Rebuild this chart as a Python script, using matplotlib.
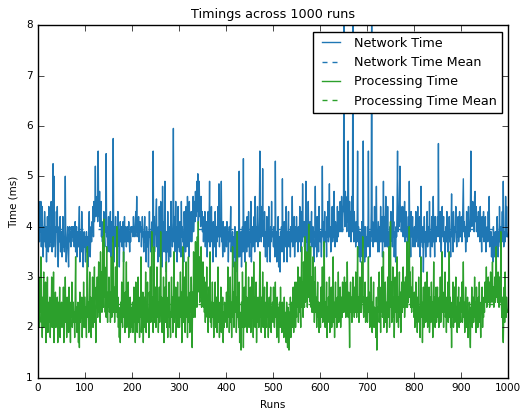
import numpy as np
import matplotlib
matplotlib.use("Agg")
import matplotlib.pyplot as plt

# timings per run (ms), 25 runs per row
network_time = [
    4.0, 3.8, 4.5, 3.7, 4.1, 3.9, 4.5, 3.6, 4.0, 4.4, 3.8, 3.4, 4.0, 3.7, 4.3, 3.9, 3.6, 4.0, 3.3, 3.8, 4.2, 3.7, 3.5, 4.4, 3.8,
    3.6, 4.0, 3.7, 4.5, 3.8, 3.5, 3.9, 5.25, 3.6, 5.0, 3.8, 4.0, 3.4, 3.7, 4.3, 3.9, 4.4, 3.6, 3.2, 3.8, 4.0, 3.7, 4.2, 3.5, 3.9,
    3.7, 3.4, 3.9, 4.2, 3.6, 3.8, 3.5, 3.9, 5.0, 3.7, 3.3, 3.6, 3.8, 4.0, 3.5, 3.2, 3.8, 4.0, 3.7, 3.9, 3.6, 4.0, 3.8, 4.0, 3.9,
    3.7, 4.0, 3.6, 3.9, 4.1, 3.5, 3.8, 4.0, 3.4, 3.7, 3.9, 3.6, 4.0, 4.4, 3.3, 3.7, 3.9, 3.5, 4.3, 3.8, 3.6, 3.2, 3.7, 3.9, 3.6,
    3.8, 3.3, 3.7, 3.9, 3.5, 3.8, 3.2, 3.7, 4.0, 4.3, 3.6, 3.4, 3.8, 4.0, 3.7, 4.1, 3.9, 4.4, 3.8, 4.5, 4.1, 4.3, 5.2, 4.2, 4.5,
    4.3, 4.6, 4.1, 5.5, 4.3, 4.2, 4.7, 4.0, 4.4, 4.5, 3.8, 4.1, 3.7, 4.0, 3.6, 4.3, 3.8, 3.6, 4.2, 3.9, 5.45, 3.8, 4.0, 3.5, 3.9,
    4.2, 3.7, 3.5, 3.9, 4.3, 3.4, 3.8, 4.1, 3.7, 4.0, 5.75, 3.8, 3.3, 4.0, 3.7, 4.2, 3.6, 4.0, 3.8, 3.6, 4.3, 3.9, 3.7, 3.2, 3.8,
    4.1, 3.7, 3.9, 4.0, 3.6, 3.9, 4.1, 3.3, 3.8, 4.2, 3.7, 3.9, 4.0, 3.6, 3.9, 3.8, 4.0, 3.7, 4.1, 3.8, 3.5, 3.9, 3.7, 4.0, 3.9,
    3.9, 4.0, 3.8, 4.2, 3.9, 4.0, 3.8, 4.1, 4.3, 3.9, 4.6, 3.8, 4.0, 3.9, 4.2, 3.7, 4.0, 4.1, 3.9, 4.0, 3.6, 3.9, 4.2, 3.8, 3.9,
    3.5, 3.9, 4.2, 3.7, 3.9, 3.3, 4.0, 3.8, 3.6, 3.9, 3.2, 3.7, 4.3, 3.8, 3.9, 3.5, 3.8, 4.0, 4.1, 3.6, 5.5, 3.7, 4.2, 3.5, 3.8,
    3.9, 4.2, 4.55, 3.6, 3.9, 3.3, 4.0, 3.7, 4.4, 3.8, 3.4, 4.5, 3.8, 3.9, 3.2, 4.8, 3.7, 4.1, 3.5, 3.8, 4.9, 3.5, 3.8, 3.1, 3.9,
    3.5, 4.3, 3.8, 3.3, 4.0, 3.7, 3.9, 3.4, 4.5, 3.8, 3.9, 3.6, 4.1, 5.95, 3.7, 4.2, 3.5, 3.8, 4.5, 3.7, 4.0, 3.3, 3.8, 4.4, 3.6,
    3.8, 3.5, 4.1, 3.7, 3.4, 4.5, 3.8, 4.0, 3.7, 3.9, 3.3, 4.3, 3.8, 3.9, 3.5, 4.4, 3.8, 3.6, 4.6, 3.9, 4.1, 3.4, 4.5, 3.7, 4.0,
    3.9, 4.3, 3.7, 4.0, 4.2, 4.6, 3.9, 4.2, 4.5, 4.1, 4.7, 4.2, 4.4, 4.9, 4.3, 5.05, 4.1, 4.5, 4.9, 4.2, 4.4, 4.0, 4.6, 4.1, 4.3,
    3.9, 4.2, 3.7, 4.0, 3.9, 4.3, 3.6, 4.0, 3.8, 4.1, 3.4, 3.9, 4.3, 3.7, 4.0, 4.9, 3.6, 3.9, 3.8, 4.4, 3.7, 3.9, 3.3, 4.1, 3.7,
    3.9, 3.6, 4.3, 3.8, 3.4, 4.0, 3.7, 3.9, 4.4, 3.8, 4.85, 3.6, 4.0, 3.8, 4.2, 4.9, 3.7, 3.9, 3.4, 4.1, 3.8, 3.9, 3.5, 4.0, 3.7,
    3.9, 3.6, 4.1, 3.8, 3.9, 3.3, 3.8, 4.0, 3.7, 3.9, 4.4, 3.5, 3.7, 3.6, 3.9, 3.2, 3.8, 3.7, 3.4, 4.0, 3.3, 3.7, 3.6, 3.9, 3.1,
    3.6, 3.4, 3.8, 5.1, 3.4, 3.7, 3.6, 3.9, 3.2, 3.7, 4.0, 3.5, 5.35, 3.6, 3.8, 3.3, 4.1, 3.7, 3.9, 3.5, 4.2, 3.7, 3.6, 4.3, 3.8,
    3.4, 3.9, 3.7, 4.5, 3.3, 3.8, 4.0, 3.6, 3.9, 3.7, 4.2, 3.5, 4.6, 3.8, 3.7, 4.0, 3.9, 4.4, 3.6, 3.9, 3.7, 4.3, 5.5, 3.8, 4.1,
    3.7, 4.4, 3.9, 5.15, 3.8, 4.0, 3.6, 4.3, 3.8, 3.4, 3.9, 3.7, 4.2, 3.3, 3.9, 3.7, 4.4, 3.6, 3.8, 3.3, 4.0, 3.7, 4.5, 3.8, 3.9,
    3.8, 3.6, 4.0, 3.7, 3.4, 5.3, 3.7, 3.9, 3.3, 3.9, 3.6, 4.2, 3.2, 3.8, 3.7, 3.1, 3.9, 3.6, 4.0, 3.5, 4.95, 3.7, 3.9, 3.3, 4.1,
    3.7, 3.9, 3.6, 4.4, 3.7, 3.3, 3.9, 3.8, 4.3, 3.6, 3.9, 3.8, 3.4, 4.0, 3.7, 3.9, 4.6, 3.6, 3.9, 3.8, 4.2, 3.4, 3.8, 4.0, 3.7,
    4.2, 3.8, 3.9, 3.5, 4.0, 3.8, 3.7, 4.4, 3.8, 3.9, 3.5, 4.3, 3.7, 4.85, 3.9, 3.8, 4.1, 3.6, 3.9, 3.8, 4.9, 3.7, 4.0, 3.4, 3.9,
    4.5, 3.8, 3.9, 3.4, 4.1, 3.7, 3.9, 4.3, 3.6, 3.8, 4.0, 3.7, 3.3, 3.9, 3.8, 4.8, 3.6, 3.9, 3.4, 4.2, 3.8, 3.9, 3.5, 4.4, 3.8,
    3.7, 3.9, 3.8, 3.4, 4.0, 5.2, 3.8, 4.1, 3.6, 3.9, 4.3, 3.8, 3.7, 3.9, 3.4, 4.2, 3.8, 4.5, 3.7, 3.9, 4.85, 3.8, 4.0, 3.5, 3.9,
    3.8, 4.4, 3.7, 3.9, 3.8, 4.7, 3.9, 3.6, 4.1, 3.8, 4.0, 3.7, 4.4, 3.9, 3.8, 4.3, 4.0, 3.9, 4.5, 4.1, 3.9, 4.6, 4.2, 3.9, 4.4,
    4.3, 8.6, 4.4, 4.0, 4.7, 4.2, 4.4, 3.9, 4.6, 4.1, 5.7, 4.2, 3.8, 4.5, 4.0, 4.3, 3.7, 4.2, 4.6, 3.9, 8.4, 4.1, 3.7, 4.3, 3.8,
    4.0, 3.6, 4.1, 3.7, 3.9, 5.5, 3.7, 4.0, 3.4, 3.8, 3.9, 3.3, 3.7, 3.6, 4.1, 3.4, 3.7, 5.7, 3.6, 3.9, 3.3, 4.0, 3.7, 3.4, 3.8,
    3.7, 4.0, 3.6, 5.5, 3.7, 3.9, 3.4, 3.9, 3.7, 4.3, 8.5, 3.8, 4.1, 3.6, 3.9, 3.7, 4.4, 3.7, 3.9, 4.0, 4.8, 3.7, 3.9, 3.5, 4.1,
    3.8, 3.5, 4.0, 3.7, 4.4, 3.7, 3.9, 4.2, 3.4, 3.9, 4.9, 3.7, 4.2, 3.6, 3.9, 4.6, 3.8, 4.0, 3.6, 4.4, 3.6, 3.9, 3.3, 3.8, 4.0,
    3.7, 4.3, 3.9, 4.0, 3.6, 4.6, 3.8, 4.1, 3.4, 3.9, 3.7, 3.3, 4.0, 3.8, 4.4, 5.5, 3.9, 4.2, 4.0, 4.6, 5.2, 4.1, 4.4, 3.9, 4.2,
    3.9, 4.4, 3.8, 4.1, 3.9, 4.5, 3.7, 4.0, 4.3, 3.8, 4.0, 3.6, 3.9, 4.2, 3.7, 4.9, 3.8, 3.9, 3.4, 4.3, 3.8, 3.9, 4.2, 3.6, 3.9,
    3.7, 4.0, 3.6, 3.9, 4.3, 3.7, 3.9, 3.8, 4.4, 3.6, 3.9, 3.8, 4.2, 3.4, 3.9, 4.8, 3.7, 3.9, 3.6, 4.0, 3.1, 3.8, 4.2, 3.7, 3.9,
    3.4, 3.9, 3.7, 4.3, 3.6, 3.8, 4.0, 3.7, 4.5, 3.8, 3.4, 3.9, 3.8, 4.2, 3.6, 3.9, 4.6, 3.7, 3.9, 3.4, 4.2, 3.8, 3.7, 4.0, 3.9,
    4.2, 3.8, 5.65, 3.9, 4.0, 3.7, 4.3, 3.8, 3.5, 3.9, 4.4, 3.8, 3.9, 4.2, 3.7, 3.9, 3.4, 3.8, 4.0, 3.7, 4.3, 3.8, 3.5, 3.9, 3.8,
    4.2, 3.7, 3.9, 3.4, 4.0, 4.65, 3.8, 3.9, 3.5, 4.3, 3.8, 3.7, 4.0, 3.9, 4.4, 3.8, 3.6, 3.9, 3.8, 4.2, 3.7, 3.9, 4.3, 3.8, 3.9,
    3.8, 4.2, 3.7, 3.9, 4.4, 4.95, 3.9, 4.1, 3.8, 4.0, 3.5, 3.9, 4.3, 3.7, 3.9, 3.8, 4.4, 3.8, 4.0, 3.9, 4.3, 5.5, 4.0, 4.4, 4.1,
    4.5, 4.0, 4.3, 3.9, 4.6, 4.7, 4.1, 4.4, 3.9, 4.2, 4.0, 3.8, 4.3, 3.9, 4.0, 3.7, 4.4, 3.8, 3.9, 3.5, 4.2, 3.8, 3.9, 4.3, 3.7,
    3.9, 3.8, 4.2, 3.5, 3.9, 3.8, 4.0, 3.7, 4.3, 3.8, 4.6, 3.6, 3.9, 3.7, 3.9, 3.4, 3.8, 3.7, 3.3, 4.0, 3.6, 3.8, 3.4, 3.9, 3.7,
    3.9, 3.6, 4.2, 3.8, 3.4, 3.9, 3.7, 4.4, 3.8, 3.6, 4.0, 3.8, 3.9, 4.3, 3.7, 4.9, 3.6, 3.9, 3.8, 3.7, 4.6, 3.8, 4.4, 3.9, 3.8,
]

processing_time = [
    2.8, 2.2, 3.0, 2.0, 2.5, 2.3, 3.4, 2.1, 2.4, 1.8, 2.6, 2.3, 3.1, 2.0, 2.4, 2.2, 2.9, 1.7, 2.4, 2.2, 3.0, 1.9, 2.3, 2.5, 2.1,
    2.6, 1.8, 2.4, 2.2, 3.0, 2.0, 2.5, 2.2, 3.1, 1.7, 2.4, 2.1, 2.7, 2.0, 2.3, 2.2, 2.6, 1.7, 2.3, 2.5, 2.1, 2.8, 1.8, 2.4, 2.2,
    2.5, 2.0, 2.3, 2.2, 2.8, 1.7, 2.4, 2.1, 3.0, 2.1, 2.3, 1.8, 2.6, 2.2, 2.4, 1.9, 2.8, 2.1, 2.3, 1.7, 2.5, 2.2, 2.9, 2.0, 2.3,
    2.5, 2.1, 2.3, 1.8, 2.6, 3.4, 2.1, 2.4, 1.9, 2.3, 2.5, 1.7, 2.3, 1.6, 2.7, 2.1, 2.4, 2.2, 2.6, 1.8, 2.3, 2.1, 2.9, 2.0, 2.3,
    2.6, 2.0, 2.4, 1.8, 2.9, 3.6, 2.2, 2.5, 1.9, 2.3, 3.1, 2.1, 2.6, 1.8, 2.4, 2.2, 3.0, 2.0, 2.5, 2.3, 3.2, 2.1, 2.4, 1.7, 2.8,
    2.4, 3.0, 2.2, 2.6, 3.3, 2.3, 2.8, 2.1, 3.5, 2.5, 3.1, 2.3, 2.7, 3.8, 2.4, 4.15, 2.6, 3.2, 2.3, 2.8, 2.2, 3.6, 2.5, 2.1, 2.7,
    2.4, 3.0, 2.3, 2.7, 2.1, 2.5, 3.4, 2.2, 2.6, 2.3, 3.8, 2.3, 2.8, 2.1, 2.5, 3.2, 2.3, 2.7, 4.0, 2.2, 2.6, 2.0, 2.4, 1.8, 2.3,
    1.7, 2.5, 2.1, 2.9, 2.2, 2.0, 2.6, 3.5, 2.2, 2.4, 1.9, 2.7, 2.3, 3.3, 2.0, 2.5, 2.2, 2.9, 1.8, 2.3, 2.1, 2.6, 1.9, 2.4, 2.2,
    2.0, 2.5, 1.9, 2.3, 2.8, 2.1, 2.4, 1.7, 2.9, 2.2, 2.5, 1.9, 2.3, 3.0, 2.1, 2.4, 1.8, 2.6, 2.2, 3.4, 1.9, 2.3, 2.1, 2.7, 1.7,
    2.4, 2.0, 2.6, 2.3, 3.1, 1.9, 2.5, 2.2, 2.9, 2.1, 2.3, 1.8, 2.7, 2.3, 3.2, 2.1, 2.5, 3.9, 2.2, 2.6, 1.9, 2.4, 3.6, 2.1, 2.3,
    2.8, 2.0, 2.4, 3.2, 2.2, 2.5, 1.9, 2.3, 2.8, 2.1, 2.4, 3.9, 2.3, 2.6, 1.9, 2.4, 2.2, 3.0, 1.7, 2.3, 2.8, 2.1, 2.5, 3.3, 2.0,
    2.4, 1.8, 2.6, 2.2, 2.9, 2.0, 2.3, 1.8, 2.5, 3.0, 2.2, 2.6, 1.9, 2.3, 3.5, 2.1, 2.5, 2.3, 2.8, 1.8, 2.4, 2.1, 2.9, 2.0, 2.3,
    2.6, 2.0, 2.4, 3.1, 2.2, 2.7, 1.7, 2.3, 3.6, 2.1, 2.5, 2.3, 3.0, 1.9, 2.4, 3.3, 2.2, 2.6, 1.8, 2.3, 3.4, 2.1, 2.5, 1.9, 2.7,
    2.3, 3.0, 2.4, 1.6, 2.7, 2.2, 3.5, 2.4, 2.9, 2.2, 3.7, 2.5, 3.1, 2.4, 3.8, 2.7, 4.1, 2.8, 3.4, 2.5, 3.2, 2.6, 3.6, 2.4, 3.0,
    2.7, 3.3, 2.4, 3.0, 2.3, 2.6, 2.1, 2.9, 2.3, 3.2, 2.2, 2.5, 1.9, 2.8, 2.2, 2.4, 3.5, 2.1, 2.5, 2.0, 2.3, 2.9, 2.2, 2.4, 1.8,
    2.5, 2.2, 2.9, 2.0, 2.3, 2.6, 1.9, 2.4, 3.2, 2.1, 2.5, 1.8, 2.3, 2.2, 2.8, 1.9, 2.4, 2.3, 2.6, 1.7, 2.3, 2.0, 2.5, 2.2, 2.4,
    2.1, 2.7, 2.0, 2.4, 3.2, 2.2, 2.6, 1.9, 2.3, 3.0, 2.1, 2.5, 1.8, 2.4, 3.6, 2.2, 2.7, 2.0, 2.5, 3.3, 2.3, 2.6, 1.9, 2.3, 3.9,
    2.2, 2.5, 2.0, 2.9, 1.7, 2.3, 2.2, 1.55, 2.5, 2.0, 3.1, 2.3, 1.6, 2.4, 2.8, 2.0, 2.3, 3.3, 2.1, 2.6, 1.9, 2.4, 2.2, 3.0, 2.0,
    2.5, 2.1, 2.8, 1.9, 2.3, 3.0, 2.2, 2.5, 1.8, 3.3, 2.3, 2.6, 2.0, 2.4, 2.9, 1.7, 2.3, 2.1, 2.6, 2.3, 2.0, 2.5, 3.5, 2.2, 2.4,
    1.9, 2.6, 2.3, 3.1, 2.0, 2.4, 2.2, 2.8, 1.8, 2.3, 2.5, 2.0, 2.9, 2.2, 2.4, 1.8, 2.3, 2.6, 2.0, 2.3, 2.8, 1.9, 2.4, 2.2, 2.5,
    2.1, 2.8, 2.3, 2.0, 2.5, 2.9, 2.2, 2.3, 1.8, 2.6, 2.1, 2.4, 1.7, 2.3, 2.5, 2.0, 2.8, 2.2, 2.3, 1.9, 2.5, 2.1, 2.4, 1.8, 2.6,
    2.0, 2.3, 2.2, 1.7, 2.5, 2.1, 1.6, 2.4, 2.2, 1.55, 2.3, 2.0, 2.6, 1.8, 2.3, 2.5, 2.0, 2.3, 2.8, 1.9, 2.4, 2.2, 2.9, 2.0, 2.5,
    2.2, 2.9, 2.4, 3.2, 2.1, 2.6, 2.3, 3.0, 2.4, 2.0, 2.8, 3.6, 2.4, 2.9, 2.2, 3.3, 2.6, 2.4, 3.8, 2.5, 3.1, 2.7, 3.5, 2.4, 3.0,
    2.6, 4.05, 2.8, 3.3, 2.5, 3.6, 2.4, 3.0, 2.3, 2.7, 3.4, 2.3, 2.9, 2.1, 2.5, 3.2, 2.3, 2.6, 2.0, 2.4, 2.9, 2.2, 2.5, 1.9, 2.3,
    2.5, 2.0, 2.8, 2.2, 2.4, 3.2, 2.1, 2.6, 2.3, 3.7, 2.3, 2.0, 2.5, 2.2, 2.9, 1.8, 2.4, 2.1, 2.6, 2.3, 3.0, 1.9, 2.3, 2.2, 2.8,
    2.0, 2.4, 2.3, 3.4, 2.1, 2.5, 1.8, 2.3, 2.9, 2.2, 2.4, 2.0, 2.6, 2.3, 3.1, 2.1, 2.5, 2.3, 2.8, 2.0, 2.4, 2.6, 2.2, 2.9, 2.3,
    2.8, 2.3, 3.0, 2.4, 2.6, 2.2, 2.9, 2.3, 3.3, 2.5, 2.2, 2.7, 2.3, 1.6, 2.5, 2.9, 2.3, 2.6, 2.1, 2.4, 3.0, 2.3, 2.5, 2.2, 2.8,
    2.3, 3.1, 2.5, 2.2, 2.7, 3.6, 2.3, 2.6, 2.1, 2.4, 3.0, 2.3, 2.7, 2.3, 3.3, 2.5, 3.8, 2.4, 2.2, 2.6, 2.3, 2.9, 2.1, 2.5, 2.3,
    2.6, 2.1, 2.4, 3.4, 2.3, 2.7, 2.0, 2.5, 2.2, 3.0, 2.3, 1.9, 2.5, 2.2, 2.9, 2.0, 2.4, 2.1, 2.3, 1.8, 2.6, 1.55, 2.4, 2.1, 2.8,
    2.3, 3.1, 2.1, 2.5, 1.9, 2.8, 2.3, 3.2, 2.2, 2.4, 3.5, 2.0, 2.6, 2.3, 2.9, 2.1, 2.5, 1.9, 2.3, 3.0, 2.2, 2.4, 3.6, 2.0, 2.6,
    4.1, 2.4, 2.9, 2.1, 2.5, 3.2, 2.2, 2.6, 1.8, 2.4, 3.0, 2.3, 2.7, 2.1, 3.4, 2.3, 2.6, 2.0, 2.5, 3.1, 2.2, 2.7, 1.9, 2.4, 2.9,
    2.3, 2.6, 3.2, 2.4, 2.9, 2.2, 2.5, 3.0, 2.4, 2.7, 3.7, 2.4, 2.8, 2.5, 3.3, 4.0, 2.6, 3.1, 2.4, 2.8, 2.3, 2.6, 3.2, 2.4, 2.5,
    2.2, 2.7, 2.0, 2.4, 2.9, 2.1, 2.5, 1.9, 2.6, 2.3, 3.0, 2.1, 2.4, 1.8, 2.7, 3.4, 2.2, 2.5, 1.7, 2.3, 2.8, 2.0, 2.4, 2.3, 2.9,
    2.1, 2.5, 2.3, 3.1, 2.0, 2.4, 2.2, 2.8, 1.9, 2.3, 2.6, 2.1, 2.9, 2.3, 2.5, 1.8, 2.4, 3.3, 2.2, 2.6, 2.0, 2.3, 2.8, 2.1, 2.4,
    2.8, 2.2, 2.5, 2.0, 2.6, 2.3, 3.0, 2.1, 2.4, 2.9, 3.5, 2.3, 2.5, 2.0, 2.7, 2.3, 3.1, 2.2, 2.4, 1.9, 2.6, 2.3, 2.9, 2.1, 2.5,
    3.5, 2.2, 2.6, 2.0, 2.3, 1.6, 2.5, 2.2, 2.9, 2.0, 2.4, 2.8, 2.1, 2.5, 3.0, 2.2, 2.4, 1.9, 2.6, 2.3, 2.8, 2.0, 2.3, 2.5, 2.1,
    2.6, 2.3, 2.9, 2.1, 2.4, 3.3, 2.2, 2.5, 1.9, 2.3, 2.8, 2.0, 2.4, 2.2, 2.6, 1.8, 2.3, 2.1, 2.5, 1.9, 1.6, 2.4, 2.2, 2.8, 2.0,
    2.3, 2.6, 2.1, 2.4, 3.0, 2.2, 2.5, 1.9, 2.8, 2.3, 2.4, 2.0, 2.6, 2.2, 2.9, 2.1, 2.3, 1.8, 2.5, 2.3, 2.8, 2.0, 2.4, 2.2, 2.6,
    2.3, 2.9, 2.5, 2.6, 3.2, 2.4, 2.7, 2.5, 3.0, 2.5, 2.9, 2.4, 2.6, 3.1, 2.5, 2.7, 2.6, 3.3, 2.5, 2.8, 2.4, 2.6, 3.0, 2.5, 2.7,
    3.6, 2.6, 2.8, 2.5, 3.1, 2.6, 2.4, 3.0, 2.5, 2.7, 3.9, 2.5, 2.2, 2.6, 1.9, 1.7, 2.3, 2.8, 2.1, 3.1, 2.4, 2.2, 2.6, 2.4, 2.3,
]

net_runs = np.arange(len(network_time))
proc_runs = np.arange(len(processing_time))

plt.style.use("classic")
fig = plt.figure(figsize=(5.21, 4.12), dpi=100, facecolor="white")
ax = fig.add_axes([0.073, 0.083, 0.902, 0.856])

blue = "#1f77b4"
green = "#2ca02c"
net_mean = np.mean(network_time)
proc_mean = np.mean(processing_time)

ax.plot(net_runs, network_time, color=blue, lw=1, label="Network Time")
ax.plot([net_runs[0], net_runs[-1]], [net_mean, net_mean], color=blue, lw=1,
        dashes=(3.6, 3.6), label="Network Time Mean")
ax.plot(proc_runs, processing_time, color=green, lw=1, label="Processing Time")
ax.plot([proc_runs[0], proc_runs[-1]], [proc_mean, proc_mean], color=green, lw=1,
        dashes=(3.6, 3.6), label="Processing Time Mean")

ax.set_xlim(0, 1000)
ax.set_ylim(1, 8)
ax.set_xticks(np.arange(0, 1001, 100))
ax.tick_params(labelsize=7.5)
ax.set_title("Timings across 1000 runs", fontsize=9.2)
ax.set_xlabel("Runs", fontsize=7.5)
ax.set_ylabel("Time (ms)", fontsize=7.5)
ax.legend(loc="upper right", fontsize=9.2, numpoints=2, borderaxespad=0.5)

fig.savefig("out.png", dpi=100, facecolor="white")
